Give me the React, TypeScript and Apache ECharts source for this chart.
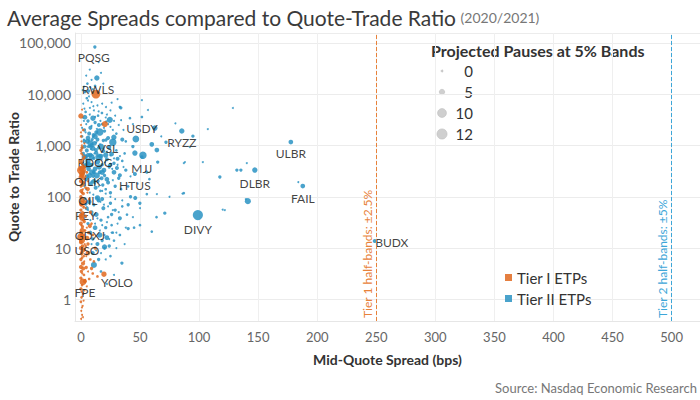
import React, { useEffect, useRef } from "react";
import * as echarts from "echarts";

const TITLE = "Average Spreads compared to Quote-Trade Ratio";
const SUBTITLE = "(2020/2021)";
const X_NAME = "Mid-Quote Spread (bps)";
const Y_NAME = "Quote to Trade Ratio";
const SOURCE = "Source: Nasdaq Economic Research";
const SIZE_LEGEND_TITLE = "Projected Pauses at 5% Bands";
const SIZE_LEGEND_VALUES = [0, 5, 10, 12];
const TIER_NAMES = ["Tier I ETPs", "Tier II ETPs"];
const BAND_LINES = [250, 500];
const BAND_LABELS = ["Tier 1 half-bands: \u00b12.5%", "Tier 2 half-bands: \u00b15%"];

// [spread bps, quote-to-trade ratio, projected pauses]
const tier1Points: [number, number, number][] = [
  [20.3, 2610, 6], [0, 3740, 5], [5.9, 8, 4], [0, 4.3, 3], [1.7, 2.2, 7],
  [0.2, 1500, 1], [1, 900, 2], [0.5, 700, 1], [2, 550, 2], [0, 480, 3], [1.5, 420, 1],
  [3, 380, 2], [0.8, 260, 4], [2.5, 230, 2], [0, 200, 3], [1.2, 170, 2], [4, 150, 1],
  [0.3, 130, 3], [2, 115, 2], [0, 100, 2], [1, 88, 4], [3, 80, 2], [0.5, 70, 3],
  [2.2, 62, 1], [0, 55, 2], [1.5, 48, 3], [4, 42, 2], [0.7, 38, 4], [2.8, 33, 2],
  [0, 30, 3], [1.3, 26, 2], [7.6, 26.8, 3], [3.5, 22, 1], [0.2, 20, 3], [2, 18, 2],
  [0, 13, 3], [1.4, 11, 2], [3, 9.5, 2], [0.6, 8, 3], [2.4, 7, 1], [0, 6, 2],
  [1.8, 5, 3], [4.5, 4.2, 2], [0.4, 3.5, 2], [2.6, 3, 1], [0, 2.6, 2], [1, 1.9, 1],
  [0, 1.6, 2], [2, 1.3, 1], [0.5, 1.1, 1], [0, 0.9, 1], [1.5, 0.75, 0], [0.3, 0.6, 0],
  [1, 0.5, 0], [0.2, 0.42, 0], [6, 12, 2], [8, 6, 1], [9, 4, 2], [10, 3.2, 1],
  [7, 2.5, 1], [5, 1.8, 0], [4, 11, 1], [6.5, 20, 2], [3, 600, 1], [5, 300, 1],
  [6, 200, 0], [7, 90, 1], [8, 50, 2], [9, 30, 1], [10, 18, 1], [12, 10, 2],
  [11, 5.5, 1], [14, 2.8, 1], [0, 2500, 0], [0.5, 1200, 0], [1, 5000, 0], [2, 2000, 1],
  [0, 800, 2], [3, 1100, 0], [0.4, 350, 5], [1, 280, 6], [0, 240, 4], [1.8, 190, 3],
  [0.6, 75, 5], [0, 42, 4], [1.1, 22, 5], [0.3, 10, 4], [2, 4, 3], [0.9, 14, 6],
  [0, 1800, 0], [0.8, 1000, 0], [1.5, 650, 0], [0.3, 450, 0], [2.2, 320, 0], [0.6, 210, 0],
  [1.6, 140, 0], [0.2, 95, 0], [2.5, 65, 0], [1, 45, 0], [0.4, 28, 0], [1.8, 16, 0],
  [3.2, 12, 0], [0.7, 7.5, 0], [2.8, 5.5, 0], [1.2, 3.2, 0], [3.6, 2.4, 0], [0.5, 1.4, 0],
  [2.3, 0.95, 0], [0.9, 0.7, 0], [1.7, 0.45, 0], [4.5, 7, 0], [6, 3.5, 0], [3, 1.5, 0],
  [5, 25, 0], [4, 60, 0], [5.5, 120, 0], [3.8, 250, 0], [0, 160, 1], [1, 120, 1],
  [0, 70, 1], [2, 35, 1], [0.5, 18, 1], [1, 6.5, 1], [2.2, 9, 2],
];

const tier2Points: [number, number, number][] = [
  [13.5, 20600, 5], [7.5, 30000, 0], [5.5, 16000, 1], [10, 12500, 0], [15, 42000, 0],
  [3.5, 11000, 1], [2.5, 14000, 0], [9, 19000, 0], [17, 26000, 0], [4.5, 23000, 0],
  [12, 14500, 1], [6.5, 11500, 2], [8, 13500, 0], [19, 16000, 0], [1.5, 12000, 0],
  [5, 8300, 1], [7.6, 5400, 0], [3.4, 3550, 4], [10.2, 3400, 5], [15.2, 2500, 3],
  [24.5, 3150, 6], [17.8, 4280, 1], [33.8, 5400, 2], [41.5, 3400, 1], [56.7, 4900, 0],
  [51.6, 7600, 0], [33, 5600, 1], [21.2, 5600, 0], [27.9, 1440, 5], [16, 1820, 8],
  [27, 1150, 8], [46.5, 1333, 7], [62.6, 2180, 5], [94.8, 1517, 2], [107.4, 2080, 0],
  [128.6, 5360, 0], [2, 6500, 0], [4, 4500, 1], [6, 3000, 2], [8, 2200, 3], [9, 7000, 0],
  [11, 4800, 0], [12, 2800, 2], [13, 1800, 3], [14, 6000, 0], [18, 2600, 1], [20, 1900, 2],
  [22, 4000, 0], [23, 1400, 3], [25, 2300, 0], [28, 3000, 0], [30, 1700, 1], [3, 2000, 2],
  [1, 1500, 1], [5.5, 1200, 4], [7, 1700, 3], [9.5, 1300, 2], [11.5, 1100, 4], [19, 1250, 2],
  [14.5, 3800, 1], [36, 2000, 0], [38, 1200, 1], [44, 2600, 0], [31, 8000, 0], [26, 6800, 0],
  [2.5, 3000, 0], [6.8, 9000, 0], [10.8, 1600, 3], [21.5, 2900, 1], [35, 1300, 3],
  [68, 1500, 0], [72, 1150, 2], [60, 1050, 4], [80, 2700, 0],
  [64.3, 813, 4], [52.5, 646, 8], [45.7, 710, 5], [65, 473, 2], [88, 473, 0], [30.5, 363, 3],
  [55.8, 302, 2], [33, 263, 3], [87.1, 452, 0], [103.2, 474, 0], [92.2, 927, 0],
  [1, 900, 1], [2, 700, 2], [3, 950, 3], [4, 600, 4], [5, 800, 3], [6, 500, 5], [7, 950, 2],
  [8, 650, 4], [9, 420, 3], [10, 880, 5], [11, 560, 2], [12, 350, 4], [13, 720, 3],
  [14, 480, 5], [15, 900, 2], [16, 300, 3], [17, 620, 4], [18, 420, 2], [19, 780, 3],
  [20, 260, 2], [22, 540, 3], [24, 380, 2], [26, 680, 4], [28, 450, 2], [30, 800, 1],
  [32, 230, 2], [35, 500, 1], [38, 330, 2], [40, 160, 1], [2.5, 300, 2], [4.5, 220, 3],
  [6.5, 350, 4], [8.5, 180, 3], [10.5, 250, 2], [12.5, 150, 3], [14.5, 200, 2], [16.5, 130, 1],
  [18.5, 170, 2], [21, 140, 1], [23, 190, 3], [25, 120, 2], [27, 210, 0], [3.5, 400, 4],
  [5.5, 420, 6], [7.5, 260, 5], [9.5, 300, 6], [11, 200, 4], [13.5, 260, 6], [15.5, 380, 5],
  [17.5, 230, 3], [19.5, 330, 4], [1.5, 450, 2], [29, 160, 2], [34, 140, 1], [42, 250, 0],
  [48, 180, 0], [58, 220, 1], [37, 700, 1], [44, 950, 2], [2, 180, 2], [24, 900, 3],
  [9, 1000, 4], [6, 650, 3],
  [141.3, 82, 6], [139.6, 90, 0], [121.8, 55, 0], [87.1, 118, 1], [140.4, 454, 0],
  [132, 331, 2], [135.4, 331, 2], [117.6, 242, 2], [184, 193, 0],
  [49.9, 75, 2], [71, 48, 2], [60, 21, 1], [40, 24, 2], [55.8, 113, 1], [64.3, 113, 0],
  [86, 115, 0], [50, 28, 1], [120, 56, 0],
  [3, 90, 2], [5, 60, 3], [7, 80, 4], [9, 50, 3], [11, 70, 2], [13, 45, 4], [15, 85, 3],
  [17, 35, 2], [19, 60, 3], [21, 25, 2], [23, 40, 1], [25, 75, 2], [27, 20, 1], [29, 55, 2],
  [31, 30, 0], [33, 18, 1], [35, 65, 1], [37, 12, 0], [39, 45, 1], [42, 100, 2], [45, 25, 1],
  [50, 60, 0], [64, 40, 1], [75, 100, 0], [6, 30, 2], [8, 20, 3], [10, 15, 2],
  [12, 25, 4], [14, 12, 3], [16, 18, 5], [18, 14, 2], [20, 10, 1], [22, 16, 4], [24, 11, 2],
  [26, 28, 1], [28, 14, 1], [30, 10, 0], [14, 95, 5], [18, 90, 3], [26, 45, 2], [33, 38, 3],
  [40, 70, 2], [46, 95, 3],
  [20, 10.5, 5], [11, 4.7, 6], [34.7, 5.1, 2], [25, 7, 1], [15, 6, 2], [28, 3, 0],
  [17, 3.5, 1], [10, 8, 3], [22, 2, 0],
  [1.5, 3500, 0], [3, 5200, 0], [4.5, 2600, 0], [6, 7500, 0], [7.5, 4000, 0], [9, 2400, 0],
  [10.5, 5800, 0], [12, 3600, 0], [13.5, 2100, 0], [15, 4600, 0], [16.5, 3000, 0], [18, 6500, 0],
  [19.5, 2200, 0], [21, 3500, 0], [23, 2600, 0], [25, 4800, 0], [27, 2000, 0], [29, 3800, 0],
  [32, 2500, 0], [34, 3100, 0],
  [1, 2200, 0], [2.5, 1300, 0], [4, 1800, 0], [5.5, 950, 0], [7, 1250, 0], [8.5, 850, 0],
  [10, 1450, 0], [11.5, 700, 0], [13, 1150, 0], [14.5, 620, 0], [16, 1050, 0], [17.5, 540, 0],
  [19, 880, 0], [20.5, 470, 0], [22, 760, 0], [23.5, 410, 0], [25, 640, 0], [26.5, 350, 0],
  [28, 560, 0], [31, 420, 0], [33, 620, 0], [36, 380, 0],
  [1.5, 280, 0], [3, 160, 0], [4.5, 140, 0], [6, 240, 0], [7.5, 120, 0], [9, 200, 0],
  [10.5, 110, 0], [12, 180, 0], [13.5, 95, 0], [15, 160, 0], [16.5, 80, 0], [18, 130, 0],
  [19.5, 70, 0], [21, 115, 0], [23, 65, 0], [25, 100, 0], [27, 55, 0], [29, 90, 0],
  [32, 50, 0], [35, 85, 0],
  [4, 40, 0], [6, 55, 0], [8, 35, 0], [10, 45, 0], [12, 30, 0], [14, 38, 0], [16, 22, 0],
  [18, 28, 0], [20, 18, 0], [22, 32, 0], [24, 15, 0], [26, 20, 0], [9, 12, 0], [13, 9, 0],
  [17, 8, 0], [21, 6, 0], [30, 20, 0], [38, 25, 0], [44, 40, 0],
  [3, 1200, 3], [6, 1400, 4], [8, 1100, 6], [12, 1500, 5], [14, 1300, 3], [17, 950, 6],
  [21, 650, 5], [25, 420, 3], [28, 300, 4], [31, 550, 3], [9, 600, 6], [15, 600, 7],
  [18, 300, 5], [22, 220, 4], [5, 250, 3], [11, 300, 3], [3, 600, 5], [7, 420, 5],
];

// [name, tier (1|2), spread, ratio, pauses]
const labeledPoints: [string, number, number, number, number][] = [
  ["PQSG", 2, 11.8, 82800, 2],
  ["RWLS", 1, 12.7, 10000, 10],
  ["USDY", 2, 51.6, 3580, 1],
  ["RYZZ", 2, 85.4, 1910, 5],
  ["VSL", 2, 21.2, 1275, 2],
  ["RDOG", 2, 12.7, 813, 3],
  ["MJJ", 2, 51.6, 594, 2],
  ["OILK", 1, 0.5, 330, 10],
  ["HTUS", 2, 45.7, 277, 3],
  ["OIL", 1, 5.9, 141, 3],
  ["PEY", 2, 4.2, 72, 2],
  ["GDXJ", 1, 0, 16.5, 8],
  ["USO", 1, 5.1, 15.7, 4],
  ["YOLO", 1, 19.5, 3.1, 5],
  ["FPE", 1, 3.4, 2.27, 3],
  ["DIVY", 2, 99, 44, 12],
  ["ULBR", 2, 177.7, 1165, 4],
  ["DLBR", 2, 147.2, 331, 5],
  ["FAIL", 2, 187.8, 162, 4],
  ["BUDX", 2, 248.7, 13.7, 3],
];

// label placement relative to the mark centre (px)
const labelOffsets: Record<string, [number, number]> = {
  PQSG: [-1, 11], RWLS: [2, -5], USDY: [0, 11], RYZZ: [0, 11], VSL: [2, 8],
  RDOG: [-1, 12], MJJ: [0, 11], OILK: [6, 11], HTUS: [0, 11], OIL: [0, 11],
  PEY: [0, 11], GDXJ: [9, -1], USO: [0, 12], YOLO: [13, 8], FPE: [0, 11],
  DIVY: [0, 14], ULBR: [0, 11], DLBR: [0, 13], FAIL: [0, 12], BUDX: [17, 1],
};

const ORANGE = "#E0691F";
const BLUE = "#2A93C3";
const FONT = "Lato, 'Open Sans', sans-serif";

const sizeOf = (p: number) => 2 + 0.68 * p;

function buildSeriesData(points: [number, number, number][], tier: number) {
  const items: any[] = points.map((p) => ({ value: p }));
  labeledPoints
    .filter((l) => l[1] === tier)
    .forEach(([name, , x, y, p]) => {
      items.push({
        name,
        value: [x, y, p],
        label: {
          show: true,
          formatter: name,
          position: "inside",
          offset: labelOffsets[name] || [0, 11],
          color: "#222",
          fontSize: 12,
          fontFamily: FONT,
        },
      });
    });
  return items;
}

export default function App() {
  const ref = useRef<HTMLDivElement>(null);
  useEffect(() => {
    if (!ref.current) return;
    document.body.style.margin = "0";
    const chart = echarts.init(ref.current, undefined, { renderer: "svg" });

    const legendGraphics: any[] = [
      {
        type: "text",
        x: 431,
        y: 50,
        style: {
          text: SIZE_LEGEND_TITLE,
          font: "bold 16px Lato, 'Open Sans', sans-serif",
          fill: "#333",
          verticalAlign: "middle",
        },
      },
    ];
    SIZE_LEGEND_VALUES.forEach((v, i) => {
      const cy = 71 + i * 21;
      legendGraphics.push({
        type: "circle",
        shape: { cx: 442, cy, r: sizeOf(v) / 2 },
        style: { fill: "#cfcfcf", stroke: "#bdbdbd", lineWidth: 0.6 },
      });
      legendGraphics.push({
        type: "text",
        x: 473,
        y: cy,
        style: {
          text: String(v),
          font: "15px Lato, 'Open Sans', sans-serif",
          fill: "#333",
          align: "right",
          verticalAlign: "middle",
        },
      });
    });
    legendGraphics.push({
      type: "text",
      x: 697,
      y: 388,
      style: {
        text: SOURCE,
        font: "13px Lato, 'Open Sans', sans-serif",
        fill: "#777",
        align: "right",
        verticalAlign: "middle",
      },
    });

    chart.setOption({
      animation: false,
      textStyle: { fontFamily: FONT },
      title: {
        left: 2,
        top: 2,
        text: `{a|${TITLE}} {b|${SUBTITLE}}`,
        textStyle: {
          fontWeight: "normal",
          rich: {
            a: { fontSize: 21, color: "#3a3a3a", fontFamily: FONT, fontWeight: "normal" },
            b: { fontSize: 14, color: "#777", fontFamily: FONT, fontWeight: "normal" },
          },
        },
      },
      legend: {
        data: TIER_NAMES,
        orient: "vertical",
        left: 500,
        top: 265,
        icon: "rect",
        itemWidth: 7,
        itemHeight: 7,
        itemGap: 6,
        textStyle: { fontSize: 15, color: "#333", fontFamily: FONT },
      },
      grid: { left: 75, right: 0, top: 33, bottom: 79, outerBoundsMode: "none", containLabel: false },
      xAxis: {
        type: "value",
        min: -5,
        max: 524,
        splitNumber: 10,
        name: X_NAME,
        nameLocation: "middle",
        nameGap: 31,
        nameMoveOverlap: false,
        nameTextStyle: { fontSize: 14, fontWeight: "bold", color: "#333", fontFamily: FONT },
        axisLine: { show: true, onZero: false, lineStyle: { color: "#e6e6e6" } },
        axisTick: { show: false },
        axisLabel: { showMinLabel: false, showMaxLabel: false, fontSize: 13, color: "#666", margin: 9 },
        splitLine: { show: true, lineStyle: { color: "#efefef" } },
      },
      yAxis: {
        type: "log",
        logBase: 10,
        min: 0.38,
        max: 155000,
        name: Y_NAME,
        nameLocation: "middle",
        nameGap: 55,
        nameMoveOverlap: false,
        nameTextStyle: { fontSize: 14, fontWeight: "bold", color: "#333", fontFamily: FONT },
        axisLine: { show: true, onZero: false, lineStyle: { color: "#e6e6e6" } },
        axisTick: { show: false },
        axisLabel: {
          showMinLabel: false,
          showMaxLabel: false,
          fontSize: 14,
          color: "#666",
          margin: 4,
          formatter: (v: number) => Math.round(v).toLocaleString("en-US"),
        },
        splitLine: { show: true, lineStyle: { color: "#ececec" } },
      },
      graphic: legendGraphics,
      series: [
        {
          name: TIER_NAMES[1],
          type: "scatter",
          itemStyle: { color: BLUE, opacity: 0.85 },
          symbolSize: (v: number[]) => sizeOf(v[2]),
          data: buildSeriesData(tier2Points, 2),
          z: 2,
        },
        {
          name: TIER_NAMES[0],
          type: "scatter",
          itemStyle: { color: ORANGE, opacity: 0.85 },
          symbolSize: (v: number[]) => sizeOf(v[2]),
          data: buildSeriesData(tier1Points, 1),
          z: 3,
          markLine: {
            silent: true,
            symbol: "none",
            data: BAND_LINES.map((x, i) => ({
              xAxis: x,
              lineStyle: { color: i === 0 ? "#E8823A" : "#3DA6D8", type: "dashed", width: 1, opacity: 1 },
              label: {
                show: true,
                formatter: BAND_LABELS[i],
                position: "insideStartTop",
                color: i === 0 ? "#E8823A" : "#3DA6D8",
                fontSize: 12,
                distance: 3,
                fontFamily: FONT,
              },
            })),
          },
        },
      ],
    });
    return () => chart.dispose();
  }, []);
  return <div ref={ref} style={{ width: 700, height: 400 }} />;
}
